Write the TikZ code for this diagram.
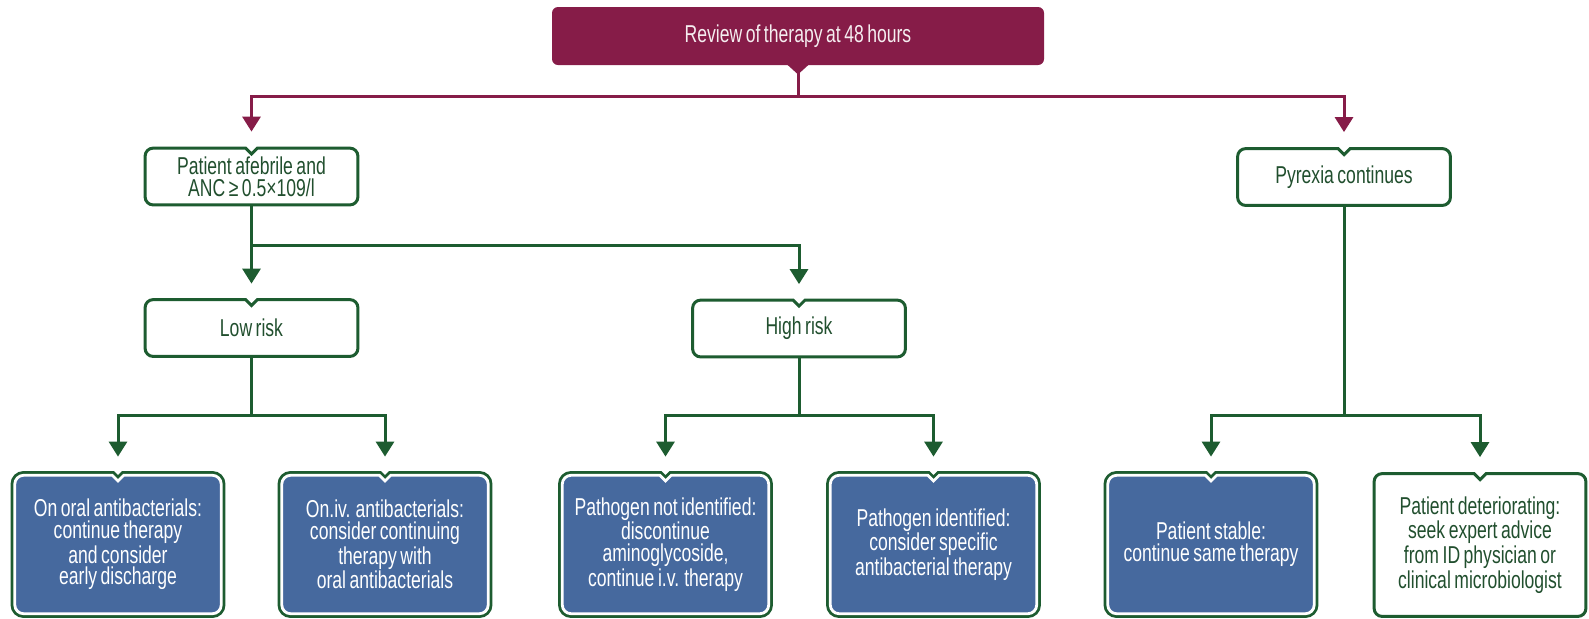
\documentclass[tikz,border=0pt]{standalone}
\usepackage{fontspec}
\setmainfont{Liberation Sans}[FakeStretch=0.72, WordSpace=0.72]
\usetikzlibrary{arrows.meta, backgrounds}
\definecolor{review-plum}{HTML}{861C48}
\definecolor{path-green}{HTML}{1D5C30}
\definecolor{label-green}{HTML}{214F2E}
\definecolor{advice-blue}{HTML}{46699E}

\tikzset{
  plumline/.style={draw=review-plum, line width=1.5pt},
  greenline/.style={draw=path-green, line width=1.5pt},
  toarrow/.style={-{Triangle[width=9pt, length=7.5pt]}},
  whitebox/.style={minimum width=106pt, minimum height=28pt, inner sep=2pt,
    text=label-green, align=center},
  bluebox/.style={minimum width=102pt, minimum height=68pt, inner sep=2pt,
    text=white, align=center},
  wframe/.style={draw=path-green, line width=1.5pt, fill=white},
  bframe/.style={fill=advice-blue, draw=white, line width=0.6pt,
    preaction={draw=path-green, line width=5pt},
    preaction={draw=white, line width=2.2pt}}
}

% rounded box with a small notch at the top centre
\newcommand{\notchframe}[2]{%
  \path[#2] ([yshift=-3pt]#1.north) -- ([xshift=3pt]#1.north)
    -- ([xshift=-4pt]#1.north east) arc[start angle=90, end angle=0, radius=4pt]
    -- ([yshift=4pt]#1.south east) arc[start angle=0, end angle=-90, radius=4pt]
    -- ([xshift=4pt]#1.south west) arc[start angle=270, end angle=180, radius=4pt]
    -- ([yshift=-4pt]#1.north west) arc[start angle=180, end angle=90, radius=4pt]
    -- ([xshift=-3pt]#1.north) -- cycle;}

\begin{document}
\begin{tikzpicture}[x=0.5pt, y=-0.5pt,
    every node/.style={font=\fontsize{12.2pt}{10.9pt}\selectfont}]
  \useasboundingbox (0,0) rectangle (1589,618);

  % review box
  \node[fill=review-plum, rounded corners=3pt, minimum width=246pt,
    minimum height=29pt, text=white!92!review-plum] (top) at (798,36)
    {Review of therapy at 48 hours};
  \fill[review-plum] ([xshift=-5.5pt, yshift=0.5pt]top.south)
    -- ([xshift=5.5pt, yshift=0.5pt]top.south) -- ([yshift=-4.5pt]top.south) -- cycle;

  % second and third levels
  \node[whitebox] (afeb) at (251.5,176.5) {Patient afebrile and\\ANC ≥ 0.5×109/l};
  \node[whitebox] (pyrex) at (1344,177) {Pyrexia continues};
  \node[whitebox] (low) at (251.5,328) {Low risk};
  \node[whitebox] (high) at (799,328.5) {High risk};

  % outcomes
  \node[bluebox] (bA) at (118,544.5) {On oral antibacterials:\\continue therapy\\and consider\\early discharge};
  \node[bluebox] (bB) at (385,544.5) {On.iv. antibacterials:\\consider continuing\\therapy with\\oral antibacterials};
  \node[bluebox] (bC) at (665.5,544.5) {Pathogen not identified:\\discontinue\\aminoglycoside,\\continue i.v. therapy};
  \node[bluebox] (bD) at (933.5,544.5) {Pathogen identified:\\consider specific\\antibacterial therapy};
  \node[bluebox] (bE) at (1211,544.5) {Patient stable:\\continue same therapy};
  \node[whitebox, minimum width=105.5pt, minimum height=71pt] (bF) at (1480,545)
    {Patient deteriorating:\\seek expert advice\\from ID physician or\\clinical microbiologist};

  \begin{scope}[on background layer]
    \foreach \n in {afeb, pyrex, low, high, bF} {\notchframe{\n}{wframe}}
    \foreach \n in {bA, bB, bC, bD, bE} {\notchframe{\n}{bframe}}
  \end{scope}

  % connectors
  \coordinate (topj) at (798,96);
  \draw[plumline] (top.south) -- (topj);
  \draw[plumline, toarrow, shorten >=8.25pt] (topj) -| (afeb.north);
  \draw[plumline, toarrow, shorten >=8.25pt] (topj) -| (pyrex.north);

  \coordinate (afebj) at (251.5,245.5);
  \draw[greenline] (afeb.south) -- (afebj);
  \draw[greenline, toarrow, shorten >=8pt] (afebj) -- (low.north);
  \draw[greenline, toarrow, shorten >=8pt] (afebj) -| (high.north);

  \coordinate (lowj) at (251.5,415.5);
  \draw[greenline] (low.south) -- (lowj);
  \draw[greenline, toarrow, shorten >=9.75pt] (lowj) -| (bA.north);
  \draw[greenline, toarrow, shorten >=9.75pt] (lowj) -| (bB.north);

  \coordinate (highj) at (799,415.5);
  \draw[greenline] (high.south) -- (highj);
  \draw[greenline, toarrow, shorten >=9.75pt] (highj) -| (bC.north);
  \draw[greenline, toarrow, shorten >=9.75pt] (highj) -| (bD.north);

  \coordinate (pyrexj) at (1344,415.5);
  \draw[greenline] (pyrex.south) -- (pyrexj);
  \draw[greenline, toarrow, shorten >=9.75pt] (pyrexj) -| (bE.north);
  \draw[greenline, toarrow, shorten >=8.25pt] (pyrexj) -| (bF.north);
\end{tikzpicture}
\end{document}
